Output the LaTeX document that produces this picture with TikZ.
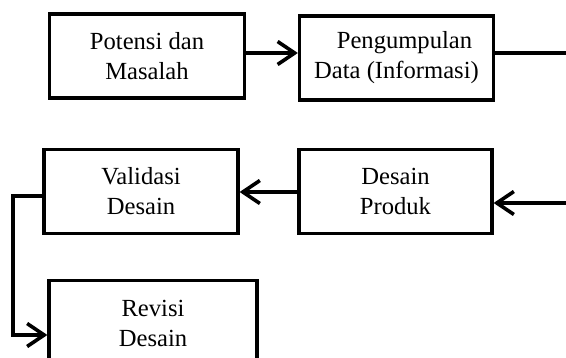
\documentclass[tikz,border=0pt]{standalone}
\usepackage{fontspec}
\setmainfont{Liberation Serif}
\usetikzlibrary{arrows.meta}
\begin{document}
\begin{tikzpicture}[x=1pt,y=-1pt,
  stage/.style={draw, line width=3.3pt, inner sep=0pt, align=center,
    minimum width=194pt, minimum height=84pt,
    font=\fontsize{24.6}{30}\selectfont},
  link/.style={line width=3.2pt},
  flow/.style={link, -{Straight Barb[length=17pt,width=23pt,line width=3.6pt]}}]
\useasboundingbox (0,0) rectangle (566,358);
\clip (0,0) rectangle (566,358);
% first row
\node[stage, minimum width=195pt] (pot) at (147,56) {Potensi dan\\Masalah};
\node[stage] (kum) at (396.5,58) {\hspace*{0.65em}Pengumpulan\\Data (Informasi)};
% second row
\node[stage] (val) at (141,191.5) {Validasi\\Desain};
\node[stage, minimum width=193pt] (prod) at (395.5,191.5) {Desain\\Produk};
% third row (box runs off the lower edge)
\node[stage, minimum width=208pt, minimum height=85pt] (rev) at (153,323) {Revisi\\Desain};
% connectors
\coordinate (outR) at (570,53);
\coordinate (inR) at (570,203);
\coordinate (down) at (13,196);
\draw[flow] ([yshift=3pt]pot.east) -- ([yshift=3pt]pot.east -| kum.west);
\draw[link] ([yshift=5pt]kum.east) -- (outR);
\draw[flow] (inR) -- (inR -| prod.east);
\draw[flow] ([yshift=-0.5pt]prod.west) -- ([yshift=-0.5pt]prod.west -| val.east);
\draw[flow] ([yshift=-4.5pt]val.west) -- (down) |- ([yshift=-12pt]rev.west);
\end{tikzpicture}
\end{document}
